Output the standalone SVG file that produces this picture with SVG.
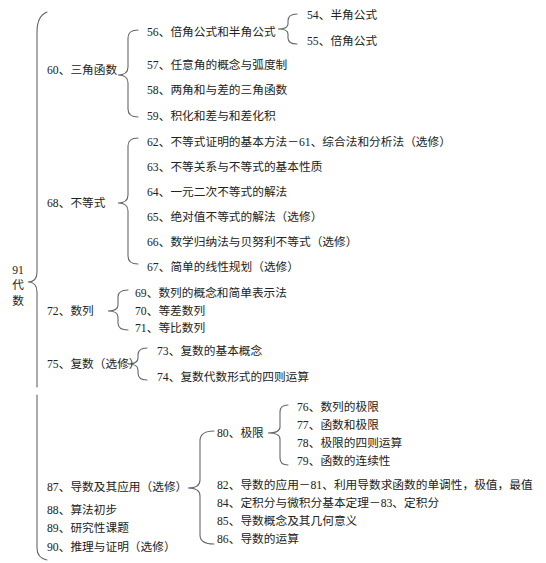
<svg xmlns="http://www.w3.org/2000/svg" width="546" height="563" viewBox="0 0 546 563">
<style>
text{font-family:"Liberation Serif","Noto Sans CJK SC",serif;font-size:11.7px;fill:#222}
.b{fill:none;stroke:#666;stroke-width:1.1;stroke-linecap:round}
.m{text-anchor:middle}
</style>
<rect width="546" height="563" fill="#fff"/>
<g id="connectors">
<path class="b" d="M47,12 Q37,16 37,32 L37,272 Q37,282 28,282 Q37,282 37,292 L37,387"/>
<path class="b" d="M37,395 L37,548 Q37,558 47,560"/>
<path class="b" d="M138,30 Q128,30 128,38 L128,67 Q128,75 118,75 Q128,75 128,83 L128,109 Q128,117 138,117"/>
<path class="b" d="M297,14 Q288,14 288,21 L288,24 Q288,29 278,29 Q288,29 288,34 L288,38 Q288,44 297,44"/>
<path class="b" d="M138,138 Q128,138 128,146 L128,195 Q128,203 118,203 Q128,203 128,211 L128,256 Q128,264 138,264"/>
<path class="b" d="M128,290 Q118,290 118,297 L118,305 Q118,311 108,311 Q118,311 118,317 L118,323 Q118,330 128,330"/>
<path class="b" d="M147,348 Q138,348 138,355 L138,358 Q138,364 128,364 Q138,364 138,370 L138,373 Q138,380 147,380"/>
<path class="b" d="M288,405 Q280,405 280,412 L280,427 Q280,433 268,433 Q280,433 280,439 L280,458 Q280,465 288,465"/>
<path class="b" d="M214,431 Q200,431 200,441 L200,480 Q200,488 188,488 Q200,488 200,496 L200,535 Q200,544 214,544"/>
</g>
<g id="n91"><text class="m" x="18" y="274">91</text><text class="m" x="18" y="289">代</text><text class="m" x="18" y="305">数</text></g>
<g id="n60"><text x="47" y="74">60、三角函数</text></g>
<g id="n56"><text x="147" y="36">56、倍角公式和半角公式</text></g>
<g id="n54"><text x="307" y="19">54、半角公式</text></g>
<g id="n55"><text x="307" y="45">55、倍角公式</text></g>
<g id="n57"><text x="147" y="69">57、任意角的概念与弧度制</text></g>
<g id="n58"><text x="147" y="94">58、两角和与差的三角函数</text></g>
<g id="n59"><text x="147" y="120">59、积化和差与和差化积</text></g>
<g id="n68"><text x="47" y="207">68、不等式</text></g>
<g id="n62"><text x="147" y="146">62、不等式证明的基本方法－61、综合法和分析法（选修）</text></g>
<g id="n63"><text x="147" y="171">63、不等关系与不等式的基本性质</text></g>
<g id="n64"><text x="147" y="196">64、一元二次不等式的解法</text></g>
<g id="n65"><text x="147" y="221">65、绝对值不等式的解法（选修）</text></g>
<g id="n66"><text x="147" y="246">66、数学归纳法与贝努利不等式（选修）</text></g>
<g id="n67"><text x="147" y="271">67、简单的线性规划（选修）</text></g>
<g id="n72"><text x="47" y="315">72、数列</text></g>
<g id="n69"><text x="135" y="297">69、数列的概念和简单表示法</text></g>
<g id="n70"><text x="135" y="315">70、等差数列</text></g>
<g id="n71"><text x="135" y="332">71、等比数列</text></g>
<g id="n75"><text x="47" y="368">75、复数（选修）</text></g>
<g id="n73"><text x="157" y="355">73、复数的基本概念</text></g>
<g id="n74"><text x="157" y="381">74、复数代数形式的四则运算</text></g>
<g id="n87"><text x="47" y="491">87、导数及其应用（选修）</text></g>
<g id="n80"><text x="217" y="437">80、极限</text></g>
<g id="n76"><text x="297" y="411">76、数列的极限</text></g>
<g id="n77"><text x="297" y="429">77、函数和极限</text></g>
<g id="n78"><text x="297" y="447">78、极限的四则运算</text></g>
<g id="n79"><text x="297" y="465">79、函数的连续性</text></g>
<g id="n82"><text x="217" y="489">82、导数的应用－81、利用导数求函数的单调性，极值，最值</text></g>
<g id="n84"><text x="217" y="507">84、定积分与微积分基本定理－83、定积分</text></g>
<g id="n85"><text x="217" y="525">85、导数概念及其几何意义</text></g>
<g id="n86"><text x="217" y="543">86、导数的运算</text></g>
<g id="n88"><text x="47" y="514">88、算法初步</text></g>
<g id="n89"><text x="47" y="532">89、研究性课题</text></g>
<g id="n90"><text x="47" y="551">90、推理与证明（选修）</text></g>
</svg>
